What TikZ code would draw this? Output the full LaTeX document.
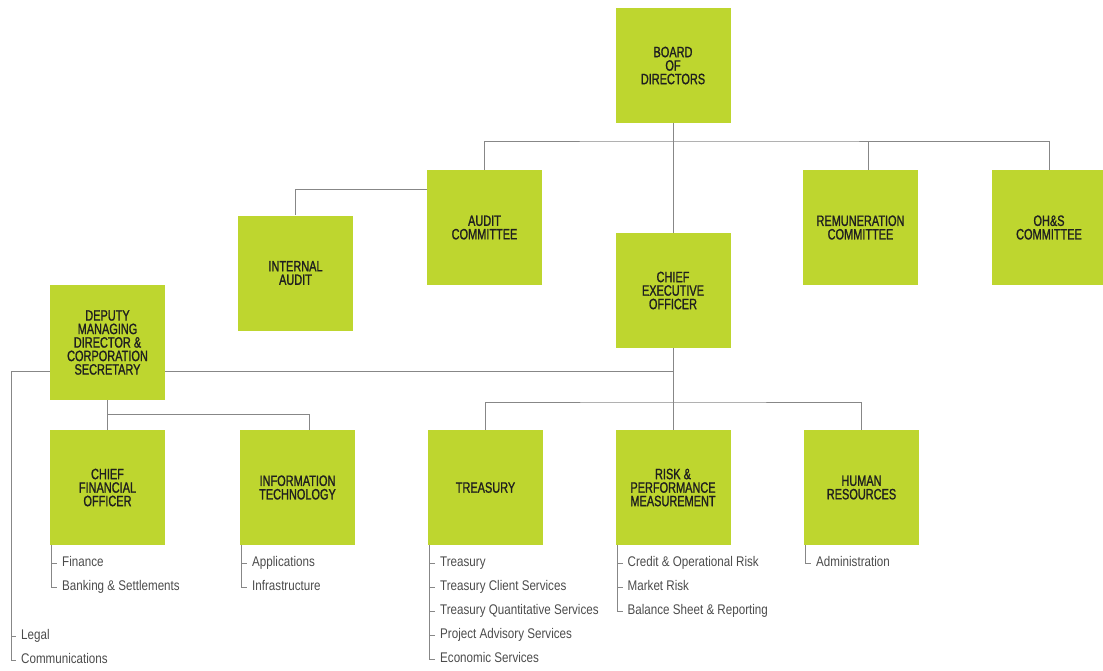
\documentclass[tikz,border=0pt]{standalone}
\usepackage{fontspec}
\setmainfont{Liberation Sans}
\newfontfamily\boxfont{Liberation Sans}[FakeStretch=0.73,FakeBold=1.2]
\newfontfamily\listfont{Liberation Sans}[FakeStretch=0.83]
\definecolor{boxgreen}{RGB}{190,214,47}
\definecolor{linegray}{RGB}{135,135,135}
\definecolor{txtgray}{RGB}{75,75,75}
\begin{document}
\begin{tikzpicture}[x=1pt,y=-1pt,
  orgbox/.style={fill=boxgreen, draw=none, minimum width=115pt, minimum height=115pt,
    inner sep=0pt, align=center, font=\boxfont\fontsize{15}{13.5}\selectfont, text=black!88},
  item/.style={anchor=west, inner sep=0pt, text height=9.5pt, text depth=2.5pt,
    font=\listfont\fontsize{14}{13}\selectfont, text=txtgray},
  conn/.style={draw=linegray, line width=0.9pt},
  twig/.style={draw=linegray, line width=0.8pt}]
\useasboundingbox (0,0) rectangle (1103,670);

% boxes
\node[orgbox] (board) at (673,65.5) {BOARD\\OF\\DIRECTORS};
\node[orgbox] (audit) at (484.5,227.5) {AUDIT\\COMMITTEE};
\node[orgbox] (intaudit) at (295.5,273) {INTERNAL\\AUDIT};
\node[orgbox] (remun) at (860.5,227.5) {REMUNERATION\\COMMITTEE};
\node[orgbox] (ohs) at (1049,227.5) {OH\&S\\COMMITTEE};
\node[orgbox] (ceo) at (673,290.5) {CHIEF\\EXECUTIVE\\OFFICER};
\node[orgbox] (deputy) at (107.5,342.5) {DEPUTY\\MANAGING\\DIRECTOR \&\\CORPORATION\\SECRETARY};
\node[orgbox] (cfo) at (107.5,487.5) {CHIEF\\FINANCIAL\\OFFICER};
\node[orgbox] (it) at (297.5,487.5) {INFORMATION\\TECHNOLOGY};
\node[orgbox] (treasury) at (485.5,487.5) {TREASURY};
\node[orgbox] (risk) at (673,487.5) {RISK \&\\PERFORMANCE\\MEASUREMENT};
\node[orgbox] (hr) at (861.5,487.5) {HUMAN\\RESOURCES};

% connectors
\coordinate (bus1) at (673,141);
\coordinate (bus2) at (673,402);
\draw[conn] (board.south) -- (ceo.north);
\draw[conn] (audit.north) |- (bus1) -| (ohs.north);
\draw[conn] ([xshift=8pt]remun.north) -- ([xshift=8pt]remun.north |- bus1);
\draw[conn] ([yshift=-20pt]audit.north west) -| (intaudit.north);
\draw[conn] ([yshift=-29pt]deputy.east) coordinate (dle) -- (dle -| ceo.south);
\draw[conn] (ceo.south) -- (risk.north);
\draw[conn] (treasury.north) |- (bus2) -| (hr.north);
\draw[conn] (deputy.south) -- (cfo.north);
\draw[conn] ([yshift=-14pt]deputy.south) -| ([xshift=11.5pt]it.north);

% deputy list
\node[item] (legal) at (21,636) {Legal};
\node[item] (comm) at (21,660) {Communications};
\draw[conn] ([yshift=-29pt]deputy.west) -| ([xshift=-10pt]comm.west) -- ([xshift=-5pt]comm.west);
\draw[twig] ([xshift=-10pt]legal.west) -- ([xshift=-5pt]legal.west);

% cfo list
\node[item] (fin) at (62,563) {Finance};
\node[item] (bank) at (62,587) {Banking \& Settlements};
\draw[twig] ([xshift=2pt]cfo.south west) |- ([xshift=-5pt]bank.west);
\draw[twig] ([xshift=-10pt]fin.west) -- ([xshift=-5pt]fin.west);

% it list
\node[item] (app) at (252,563) {Applications};
\node[item] (infra) at (252,587) {Infrastructure};
\draw[twig] ([xshift=2pt]it.south west) |- ([xshift=-5pt]infra.west);
\draw[twig] ([xshift=-10pt]app.west) -- ([xshift=-5pt]app.west);

% treasury list
\node[item] (t1) at (440,563) {Treasury};
\node[item] (t2) at (440,587) {Treasury Client Services};
\node[item] (t3) at (440,611) {Treasury Quantitative Services};
\node[item] (t4) at (440,635) {Project Advisory Services};
\node[item] (t5) at (440,659) {Economic Services};
\draw[twig] ([xshift=2pt]treasury.south west) |- ([xshift=-5pt]t5.west);
\foreach \n in {t1,t2,t3,t4}
  \draw[twig] ([xshift=-10pt]\n.west) -- ([xshift=-5pt]\n.west);

% risk list
\node[item] (r1) at (627.5,563) {Credit \& Operational Risk};
\node[item] (r2) at (627.5,587) {Market Risk};
\node[item] (r3) at (627.5,611) {Balance Sheet \& Reporting};
\draw[twig] ([xshift=2pt]risk.south west) |- ([xshift=-5pt]r3.west);
\foreach \n in {r1,r2}
  \draw[twig] ([xshift=-10pt]\n.west) -- ([xshift=-5pt]\n.west);

% hr list
\node[item] (h1) at (816,563) {Administration};
\draw[twig] ([xshift=2pt]hr.south west) |- ([xshift=-5pt]h1.west);
\end{tikzpicture}
\end{document}
